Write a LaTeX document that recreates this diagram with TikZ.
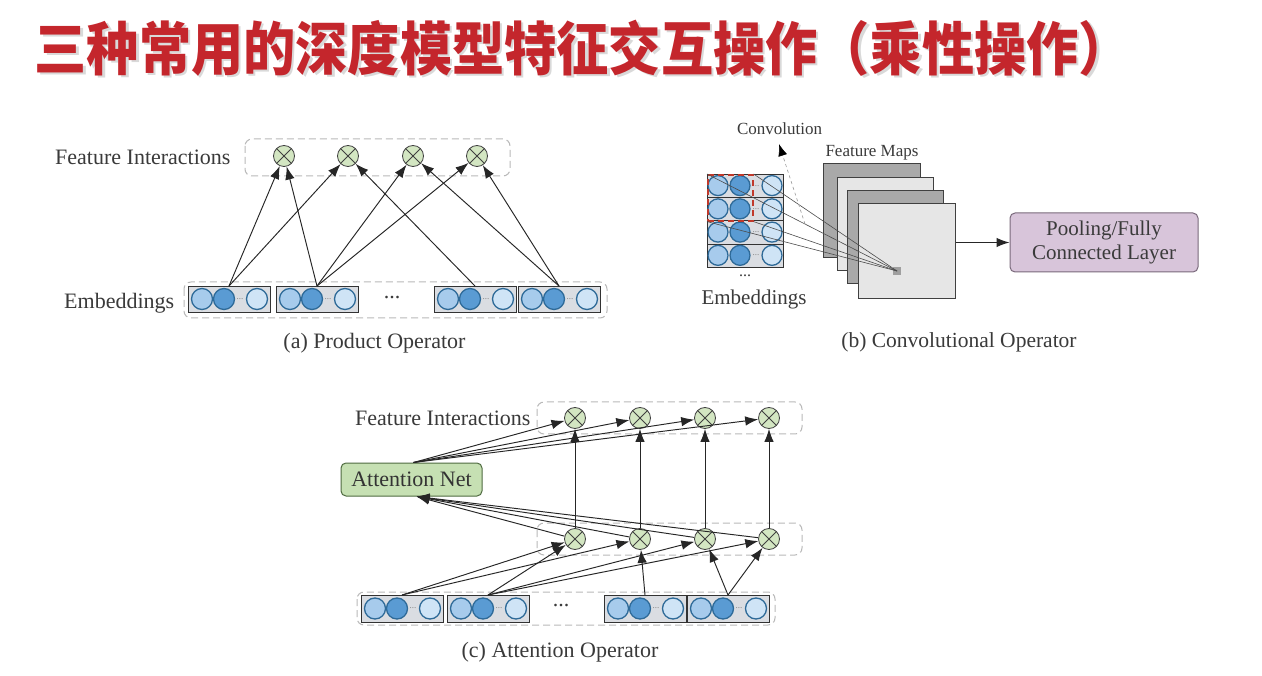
\documentclass[tikz,border=0pt]{standalone}
\usepackage{graphicx}
\usepackage{fontspec}
\setmainfont{Liberation Serif}
\newfontfamily\cjk{Noto Sans CJK SC}
\usetikzlibrary{arrows.meta}
\definecolor{txt}{HTML}{3A3A3A}
\definecolor{titlered}{HTML}{C4262C}
\definecolor{opgreen}{HTML}{D3E6C2}
\definecolor{eboxfill}{HTML}{DADDE2}
\definecolor{cA}{HTML}{A7CBEC}
\definecolor{cB}{HTML}{5A9BD3}
\definecolor{cC}{HTML}{CFE4F6}
\definecolor{cborder}{HTML}{2E6A98}
\definecolor{attgreen}{HTML}{C6E0B3}
\definecolor{attborder}{HTML}{4F6B40}
\definecolor{poolfill}{HTML}{D8C5DA}
\definecolor{poolborder}{HTML}{7A6A7C}
\definecolor{fmdark}{HTML}{A9A9A9}
\definecolor{fmlight}{HTML}{E6E6E6}
\definecolor{convred}{HTML}{C0392B}
\newcommand\embrow[4]{%
  \node[ebox, minimum width=82pt, minimum height=#4pt, anchor=north west] (#1) at (#2,#3) {};
  \node[ca] (#1a) at (#2+14,#3+#4/2) {};
  \node[cb] (#1b) at (#2+36,#3+#4/2) {};
  \node[cc] (#1c) at (#2+69,#3+#4/2) {};
  \node[smalldots] (#1d) at (#2+52,#3+#4/2) {...};
  \coordinate (#1o) at (#2+41,#3);
}
\begin{document}
\begin{tikzpicture}[x=1pt,y=-1pt,
  lbl/.style={text=txt, font=\fontsize{22}{26}\selectfont, inner sep=0},
  grp/.style={draw=gray!55, dash pattern=on 7pt off 4pt, line width=1pt, rounded corners=7pt},
  op/.style={circle, draw=black!75, line width=0.8pt, fill=opgreen, minimum size=21pt, inner sep=0,
    path picture={\draw[black!75, line width=0.8pt] (path picture bounding box.north west)--(path picture bounding box.south east) (path picture bounding box.north east)--(path picture bounding box.south west);}},
  ebox/.style={draw=black!80, line width=1pt, fill=eboxfill, inner sep=0},
  ca/.style={circle, draw=cborder, line width=1.3pt, fill=cA, minimum size=21pt, inner sep=0},
  cb/.style={ca, fill=cB},
  cc/.style={ca, fill=cC},
  smalldots/.style={text=gray, font=\fontsize{9}{9}\selectfont, inner sep=0},
  arr/.style={-{Latex[length=13pt,width=9.5pt]}, black!85, line width=0.95pt},
  fmd/.style={draw=black!75, line width=1pt, fill=fmdark, anchor=north west, inner sep=0},
  fmlt/.style={draw=black!75, line width=1pt, fill=fmlight, anchor=north west, inner sep=0},
]
\fill[white] (0,0) rectangle (1262,676);
\useasboundingbox (0,0) rectangle (1262,676);

% ---------- title ----------
\node[anchor=west, inner sep=0, text=gray!30, font=\cjk\bfseries\fontsize{58}{60}\selectfont] (titleshadow) at (37,50.5) {\scalebox{0.9}[1]{三种常用的深度模型特征交互操作（乘性操作）}};
\node[anchor=west, inner sep=0, text=titlered, font=\cjk\bfseries\fontsize{58}{60}\selectfont] (title) at (34.5,48) {\scalebox{0.9}[1]{三种常用的深度模型特征交互操作（乘性操作）}};

% ---------- (a) Product Operator ----------
\node[lbl, anchor=base west] (aFI) at (55,165) {Feature Interactions};
\draw[grp] (245,139) rectangle (510,176);
\node[op] (ap1) at (284,156) {};
\node[op] (ap2) at (348,156) {};
\node[op] (ap3) at (413,156) {};
\node[op] (ap4) at (477,156) {};
\node[lbl, anchor=base west] (aEmb) at (64,309) {Embeddings};
\draw[grp] (184,282) rectangle (607,318);
\embrow{ae1}{188}{286}{26}
\embrow{ae2}{276}{286}{26}
\embrow{ae3}{434}{286}{26}
\embrow{ae4}{518}{286}{26}
\node[lbl] (adots) at (392,298) {...};
\draw[arr] (ae1o) -- (ap1);
\draw[arr] (ae1o) -- (ap2);
\draw[arr] (ae2o) -- (ap1);
\draw[arr] (ae2o) -- (ap3);
\draw[arr] (ae2o) -- (ap4);
\draw[arr] (ae3o) -- (ap2);
\draw[arr] (ae4o) -- (ap3);
\draw[arr] (ae4o) -- (ap4);
\node[lbl, anchor=base] (acap) at (374.5,349) {(a) Product Operator};

% ---------- (b) Convolutional Operator ----------
\foreach \i in {0,1,2,3}{
  \node[ebox, minimum width=76pt, minimum height=23.25pt, anchor=north west] (r\i) at (707,174+23.25*\i) {};
  \node[ca, minimum size=20pt] (r\i a) at (718,185.6+23.25*\i) {};
  \node[cb, minimum size=20pt] (r\i b) at (740,185.6+23.25*\i) {};
  \node[cc, minimum size=20pt] (r\i c) at (772,185.6+23.25*\i) {};
  \node[smalldots] (r\i d) at (756,185.6+23.25*\i) {...};
}
\node[draw=convred, dash pattern=on 6pt off 4pt, line width=1.6pt, minimum width=45pt, minimum height=46pt, anchor=north west, inner sep=0] (rf) at (707,174) {};
\node[fmd, minimum width=97pt, minimum height=94pt] (fm1) at (823,163) {};
\node[fmlt, minimum width=96pt, minimum height=93pt] (fm2) at (837,177) {};
\node[fmd, minimum width=96pt, minimum height=93pt] (fm3) at (847,190) {};
\node[fmlt, minimum width=97pt, minimum height=95pt] (fm4) at (858,203) {};
\node[fill=gray!75, minimum size=8pt, inner sep=0] (sq) at (897,271) {};
\draw[black!70, line width=0.6pt] (rf.north west) -- (sq.center);
\draw[black!70, line width=0.6pt] (rf.north east) -- (sq.center);
\draw[black!70, line width=0.6pt] (rf.south west) -- (sq.center);
\draw[black!70, line width=0.6pt] (rf.south east) -- (sq.center);
\coordinate (cvs) at (805,224);
\coordinate (cvt) at (779,144);
\draw[gray!80, dashed, line width=0.6pt, -{Latex[length=12pt,width=9pt,color=black]}] (cvs) -- (cvt);
\node[lbl, font=\fontsize{17}{20}\selectfont, anchor=base] (convl) at (779.5,135) {Convolution};
\node[lbl, font=\fontsize{17}{20}\selectfont, anchor=base] (fmlbl) at (872,157) {Feature Maps};
\node[lbl, font=\fontsize{16}{18}\selectfont] (bdots) at (745,276) {...};
\node[lbl, font=\fontsize{21}{24}\selectfont, anchor=base] (bEmb) at (754,305) {Embeddings};
\node[draw=poolborder, line width=1pt, fill=poolfill, rounded corners=5pt, minimum width=188pt, minimum height=59pt, align=center, text=txt, font=\fontsize{21}{24}\selectfont, inner sep=0] (pool) at (1104,242.5) {Pooling/Fully\\Connected Layer};
\draw[arr, line width=1.1pt] (fm4.east |- pool.west) -- (pool.west);
\node[lbl, font=\fontsize{21.5}{24}\selectfont, anchor=base] (bcap) at (959,348) {(b) Convolutional Operator};

% ---------- (c) Attention Operator ----------
\node[lbl, anchor=base west] (cFI) at (355,425) {Feature Interactions};
\draw[grp] (537,402) rectangle (802,434);
\draw[grp] (537,523) rectangle (802,555);
\node[op] (ct1) at (575,418) {};
\node[op] (ct2) at (640,418) {};
\node[op] (ct3) at (705,418) {};
\node[op] (ct4) at (769,418) {};
\node[op] (cm1) at (575,539) {};
\node[op] (cm2) at (640,539) {};
\node[op] (cm3) at (705,539) {};
\node[op] (cm4) at (769,539) {};
\node[draw=attborder, line width=1pt, fill=attgreen, rounded corners=5pt, minimum width=141pt, minimum height=33pt, text=black!80, font=\fontsize{22}{26}\selectfont, inner sep=0] (att) at (411.5,479.5) {Attention Net};
\draw[grp] (357,592) rectangle (775,625);
\embrow{ce1}{361}{595}{27}
\embrow{ce2}{447}{595}{27}
\embrow{ce3}{604}{595}{27}
\embrow{ce4}{687}{595}{27}
\node[lbl] (cdots) at (561,606) {...};
\draw[arr] (ce1o) -- (cm1);
\draw[arr] (ce1o) -- (cm2);
\draw[arr] (ce2o) -- (cm1);
\draw[arr] (ce2o) -- (cm3);
\draw[arr] (ce2o) -- (cm4);
\draw[arr] (ce3o) -- (cm2);
\draw[arr] (ce4o) -- (cm3);
\draw[arr] (ce4o) -- (cm4);
\foreach \k in {1,2,3,4}{
  \draw[arr] (cm\k) -- (ct\k);
  \draw[arr] (cm\k) -- ([xshift=5pt]att.south);
  \draw[arr] ([xshift=2pt]att.north) -- (ct\k);
}
\node[lbl, anchor=base] (ccap) at (560,657) {(c) Attention Operator};
\end{tikzpicture}
\end{document}
